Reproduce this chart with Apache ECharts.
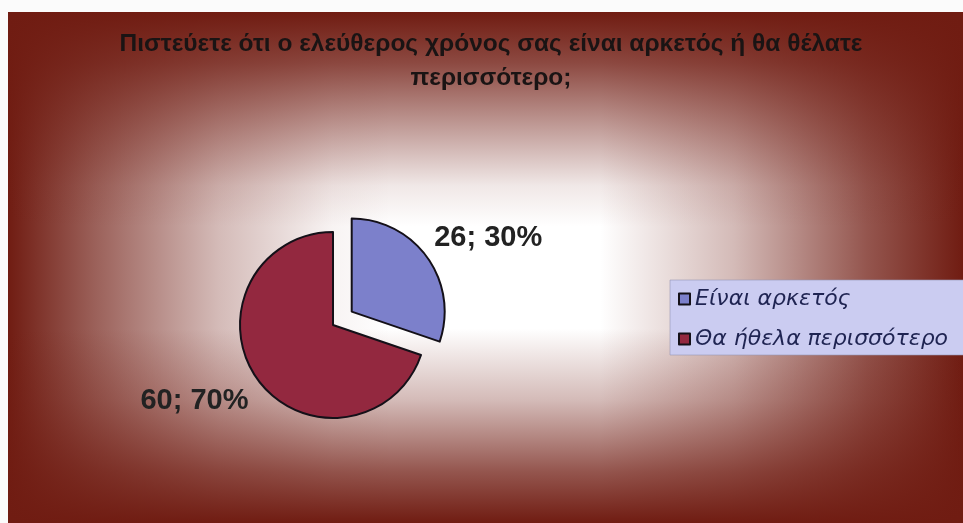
<!DOCTYPE html>
<html>
<head>
<meta charset="utf-8">
<script src="https://cdn.jsdelivr.net/npm/echarts@6/dist/echarts.min.js"></script>
<style>
  html, body { margin: 0; padding: 0; background: #fbfbfb; }
  #wrap { position: relative; width: 963px; height: 523px; overflow: hidden; }
  /* rectangular "from centre" fill: dark red edges fading to white */
  #panel {
    position: absolute; left: 8px; top: 12px; width: 955px; height: 511px;
    background:
      linear-gradient(to bottom,
        rgba(112,28,18,1) 0%, rgba(112,28,18,.8) 10%, rgba(112,28,18,.45) 22%,
        rgba(112,28,18,.1) 34%, rgba(112,28,18,0) 42%, rgba(112,28,18,0) 62%,
        rgba(112,28,18,.3) 76%, rgba(112,28,18,.75) 90%, rgba(112,28,18,1) 100%),
      linear-gradient(to right,
        rgba(112,28,18,1) 0%, rgba(112,28,18,.7) 9%, rgba(112,28,18,.3) 22%,
        rgba(112,28,18,.05) 34%, rgba(112,28,18,0) 40%, rgba(112,28,18,0) 62%,
        rgba(112,28,18,.3) 76%, rgba(112,28,18,.75) 90%, rgba(112,28,18,1) 100%),
      #ffffff;
  }
  #chart { position: absolute; left: 0; top: 0; width: 963px; height: 523px; }
</style>
</head>
<body>
<div id="wrap">
  <div id="panel"></div>
  <div id="chart"></div>
</div>
<script>
// Survey answers: is your free time enough, or would you like more?
const titleText = 'Πιστεύετε ότι ο ελεύθερος χρόνος σας είναι αρκετός ή θα θέλατε\nπερισσότερο;';
const categories = ['Είναι αρκετός', 'Θα ήθελα περισσότερο'];
const counts = [26, 60];
const sliceColors = ['#7c80cb', '#93283f'];

const total = counts.reduce((a, b) => a + b, 0);

// label leader geometry per slice (line hidden, only used to place the text)
const labelLen = [33, 38];
const labelLen2 = [34, 32];

const data = categories.map((name, i) => ({
  name: name,
  value: counts[i],
  selected: i === 0,
  itemStyle: { color: sliceColors[i] },
  labelLine: { show: false, length: labelLen[i], length2: labelLen2[i] }
}));

const chart = echarts.init(document.getElementById('chart'), null, { renderer: 'canvas' });

chart.setOption({
  backgroundColor: 'transparent',
  animation: false,
  title: {
    text: titleText,
    left: 491,
    top: 27,
    textAlign: 'center',
    padding: 0,
    textStyle: {
      fontFamily: 'Liberation Sans, Arial, sans-serif',
      fontWeight: 'bold',
      fontSize: 24.5,
      lineHeight: 34,
      color: '#1a1414'
    }
  },
  legend: {
    orient: 'vertical',
    left: 670,
    top: 280,
    backgroundColor: '#cbccf1',
    borderColor: 'rgba(150,150,180,0.6)',
    borderWidth: 1,
    padding: [7, 60, 4, 8],
    itemGap: 16,
    itemWidth: 11,
    itemHeight: 11,
    icon: 'rect',
    selectedMode: false,
    textStyle: {
      fontFamily: 'DejaVu Sans, Verdana, sans-serif',
      fontStyle: 'italic',
      fontSize: 22,
      lineHeight: 24,
      color: '#1f2452'
    },
    data: categories
  },
  series: [{
    type: 'pie',
    center: [333, 325],
    radius: 93,
    startAngle: 90,
    clockwise: true,
    selectedMode: 'single',
    selectedOffset: 23,
    avoidLabelOverlap: false,
    itemStyle: { borderColor: '#141018', borderWidth: 2 },
    select: { itemStyle: { borderColor: '#141018', borderWidth: 2 } },
    emphasis: { disabled: true },
    label: {
      show: true,
      position: 'outside',
      distanceToLabelLine: 0,
      formatter: p => p.value + '; ' + Math.round(p.value / total * 100) + '%',
      fontFamily: 'Liberation Sans, Arial, sans-serif',
      fontWeight: 'bold',
      fontSize: 29,
      color: '#222222'
    },
    labelLayout: { align: 'center' },
    data: data
  }]
});
</script>
</body>
</html>
